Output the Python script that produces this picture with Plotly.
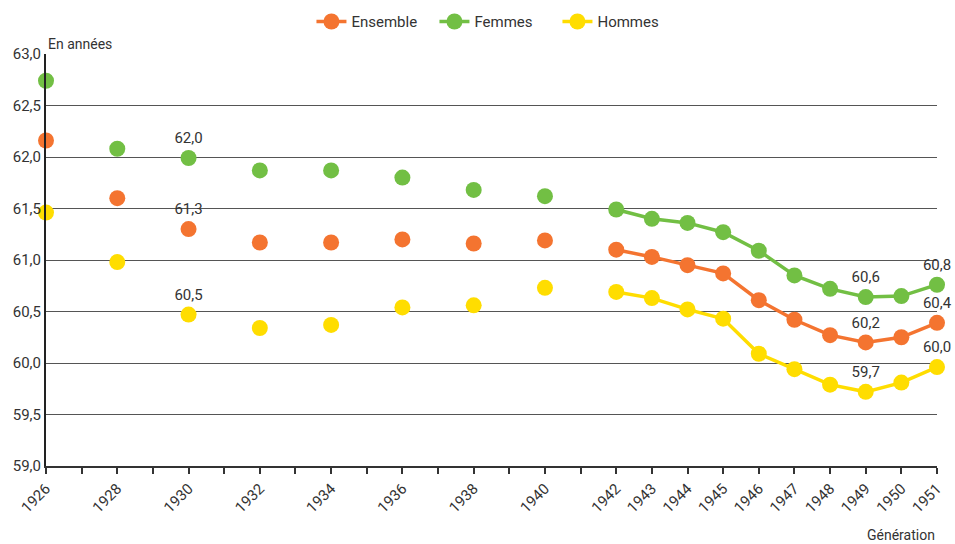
import plotly.graph_objects as go

years_early = [1926, 1928, 1930, 1932, 1934, 1936, 1938, 1940]
years_late = [1942, 1943, 1944, 1945, 1946, 1947, 1948, 1949, 1950, 1951]

ensemble_early = [62.16, 61.60, 61.30, 61.17, 61.17, 61.20, 61.16, 61.19]
ensemble_late = [61.10, 61.03, 60.95, 60.87, 60.61, 60.42, 60.27, 60.20, 60.25, 60.39]
femmes_early = [62.74, 62.08, 61.99, 61.87, 61.87, 61.80, 61.68, 61.62]
femmes_late = [61.49, 61.40, 61.36, 61.27, 61.09, 60.85, 60.72, 60.64, 60.65, 60.76]
hommes_early = [61.46, 60.98, 60.47, 60.34, 60.37, 60.54, 60.56, 60.73]
hommes_late = [60.69, 60.63, 60.52, 60.43, 60.09, 59.94, 59.79, 59.72, 59.81, 59.96]

label_years = [1930, 1949, 1951]

series = [
    ("Ensemble", "#F47430", ensemble_early, ensemble_late),
    ("Femmes", "#72BF44", femmes_early, femmes_late),
    ("Hommes", "#FFDD00", hommes_early, hommes_late),
]

FONT = "Roboto, sans-serif"
TXT = "#333333"

def lab(years, vals):
    return [(f"{v:.1f}".replace(".", ",") if y in label_years else "") for y, v in zip(years, vals)]

fig = go.Figure()
for name, color, early, late in series:
    fig.add_trace(go.Scatter(
        x=years_early, y=early, mode="markers+text", name=name, showlegend=False,
        marker=dict(color=color, size=16), text=lab(years_early, early),
        textposition="top center", textfont=dict(size=15, color=TXT, family=FONT),
        cliponaxis=False))
    fig.add_trace(go.Scatter(
        x=years_late, y=late, mode="lines+markers+text", name=name,
        line=dict(color=color, width=3.5), marker=dict(color=color, size=16),
        text=lab(years_late, late), textposition="top center",
        textfont=dict(size=15, color=TXT, family=FONT), cliponaxis=False))

tickvals = list(range(1926, 1952))
ticktext = [str(y) if (y >= 1942 or y % 2 == 0) else "" for y in tickvals]

fig.update_layout(
    width=955, height=544,
    margin=dict(l=46, r=18, t=54, b=78),
    paper_bgcolor="white", plot_bgcolor="white",
    font=dict(family=FONT, size=15, color=TXT),
    separators=", ",
    legend=dict(orientation="h", x=0.505, xanchor="center", y=0.96, yanchor="middle",
                yref="container", font=dict(size=15, color=TXT),
                traceorder="normal", entrywidth=78, itemwidth=30),
    xaxis=dict(range=[1926, 1951], tickmode="array", tickvals=tickvals, ticktext=ticktext,
               tickangle=-45, ticks="outside", ticklen=6, tickcolor="#333", tickwidth=1.5,
               showline=True, linecolor="#333", linewidth=2, showgrid=False, zeroline=False,
               tickfont=dict(size=15, color=TXT), automargin=False),
    yaxis=dict(range=[59, 63], dtick=0.5, tickformat=".1f", showgrid=True,
               gridcolor="#555555", gridwidth=1, showline=True, linecolor="#222",
               linewidth=2, zeroline=False, ticks="", tickfont=dict(size=15, color=TXT),
               automargin=False),
    annotations=[
        dict(text="En années", x=0, xref="paper", y=1.0, yref="paper", xanchor="left",
             yanchor="bottom", showarrow=False, font=dict(size=14, color=TXT)),
        dict(text="Génération", x=1, xref="paper", y=-0.167, yref="paper", xanchor="right",
             yanchor="middle", showarrow=False, font=dict(size=14, color=TXT)),
    ],
)

fig.write_html("out.html", config={"displayModeBar": False},
               post_script="document.body.style.margin='0';")
